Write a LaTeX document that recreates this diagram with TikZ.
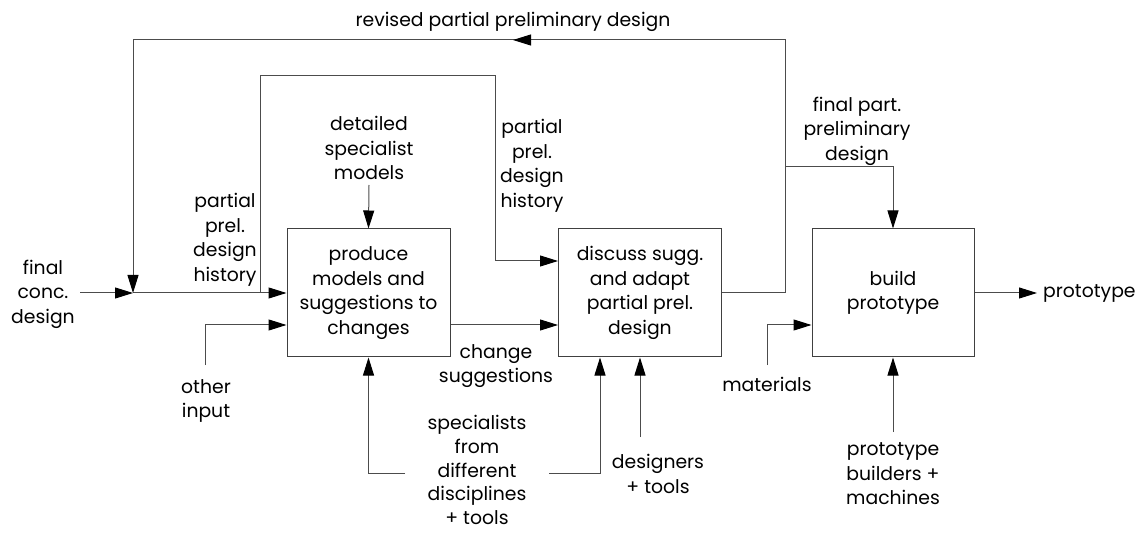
\documentclass[tikz,border=0pt]{standalone}
\usepackage{fontspec}
\setmainfont{Poppins}
\usetikzlibrary{arrows.meta}
\begin{document}
\begin{tikzpicture}[x=1pt,y=-1pt,
  every node/.style={font=\fontsize{18.8}{24.5}\selectfont, align=center, inner sep=0pt},
  proc/.style={draw=black!75, line width=1pt, minimum width=#1, minimum height=128pt},
  proc/.default=163pt,
  flow/.style={draw=black!70, line width=1pt, -{Triangle[length=18pt,width=11pt,fill=black,color=black]}},
  wire/.style={draw=black!70, line width=1pt},
  lbl/.style={text=black}]
\useasboundingbox (0,0) rectangle (1148,534);

% process boxes
\node[proc] (produce) at (368.5,293) {produce\\models and\\suggestions to\\changes};
\node[proc] (discuss) at (640,293) {discuss sugg.\\and adapt\\partial prel.\\design};
\node[proc=162pt] (build) at (893,293) {build\\prototype};

% labels
\node[lbl] (fcd) at (43,294) {final\\conc.\\design};
\node[lbl] (ppdh1) at (225,240) {partial\\prel.\\design\\history};
\node[lbl] (oin) at (206,401) {other\\input};
\node[lbl] (dsm) at (369,148) {detailed\\specialist\\models};
\node[lbl] (ppdh2) at (532,166) {partial\\prel.\\design\\history};
\node[lbl] (chs) at (496,366) {change\\suggestions};
\node[lbl, font=\fontsize{18.8}{23.8}\selectfont] (spec) at (477,470) {specialists\\from\\different\\disciplines\\+ tools};
\node[lbl] (des) at (658,474) {designers\\+ tools};
\node[lbl] (mat) at (767,384) {materials};
\node[lbl] (pbm) at (893,474) {prototype\\builders +\\machines};
\node[lbl] (fppd) at (857,131) {final part.\\preliminary\\design};
\node[lbl] (rppd) at (513,22) {revised partial preliminary design};
\node[lbl, anchor=west] (proto) at (1043,293) {prototype};

% junction points
\coordinate (jin) at (133,293);
\coordinate (jhist) at (260,293);
\coordinate (jout) at (785,293);
\coordinate (jfin) at (785,167);
\coordinate (mid) at (513,40);

% final conceptual design into the loop
\draw[flow] (80,293) -- (jin);
\draw[flow] (jin) -- (produce.west |- jin);
% history loop from the input line to the discussion box
\draw[flow] (jhist) |- (495,76) |- (discuss.west |- 0,261);
% other input
\draw[flow] (205,365) |- (produce.west |- 0,325);
% detailed models
\draw[flow] (369,185) -- (produce.north);
% change suggestions
\draw[flow] (produce.east |- 0,325) -- (discuss.west |- 0,325);
% specialists
\draw[flow] (405,473) -| (produce.south);
\draw[flow] (549,473) -| (discuss.south -| 600,0);
% designers
\draw[flow] (640,437) -- (discuss.south -| 640,0);
% output of the discussion
\draw[wire] (discuss.east |- jout) -- (jout) -- (785,40) -- (mid);
\draw[flow] (785,40) -- (mid);
\draw[flow] (mid) -| (jin);
\draw[flow] (jfin) -| (build.north);
% materials
\draw[flow] (767,365) |- (build.west |- 0,325);
% builders
\draw[flow] (893,432) -- (build.south);
% prototype out
\draw[flow] (build.east) -- (1037,293);
\end{tikzpicture}
\end{document}
